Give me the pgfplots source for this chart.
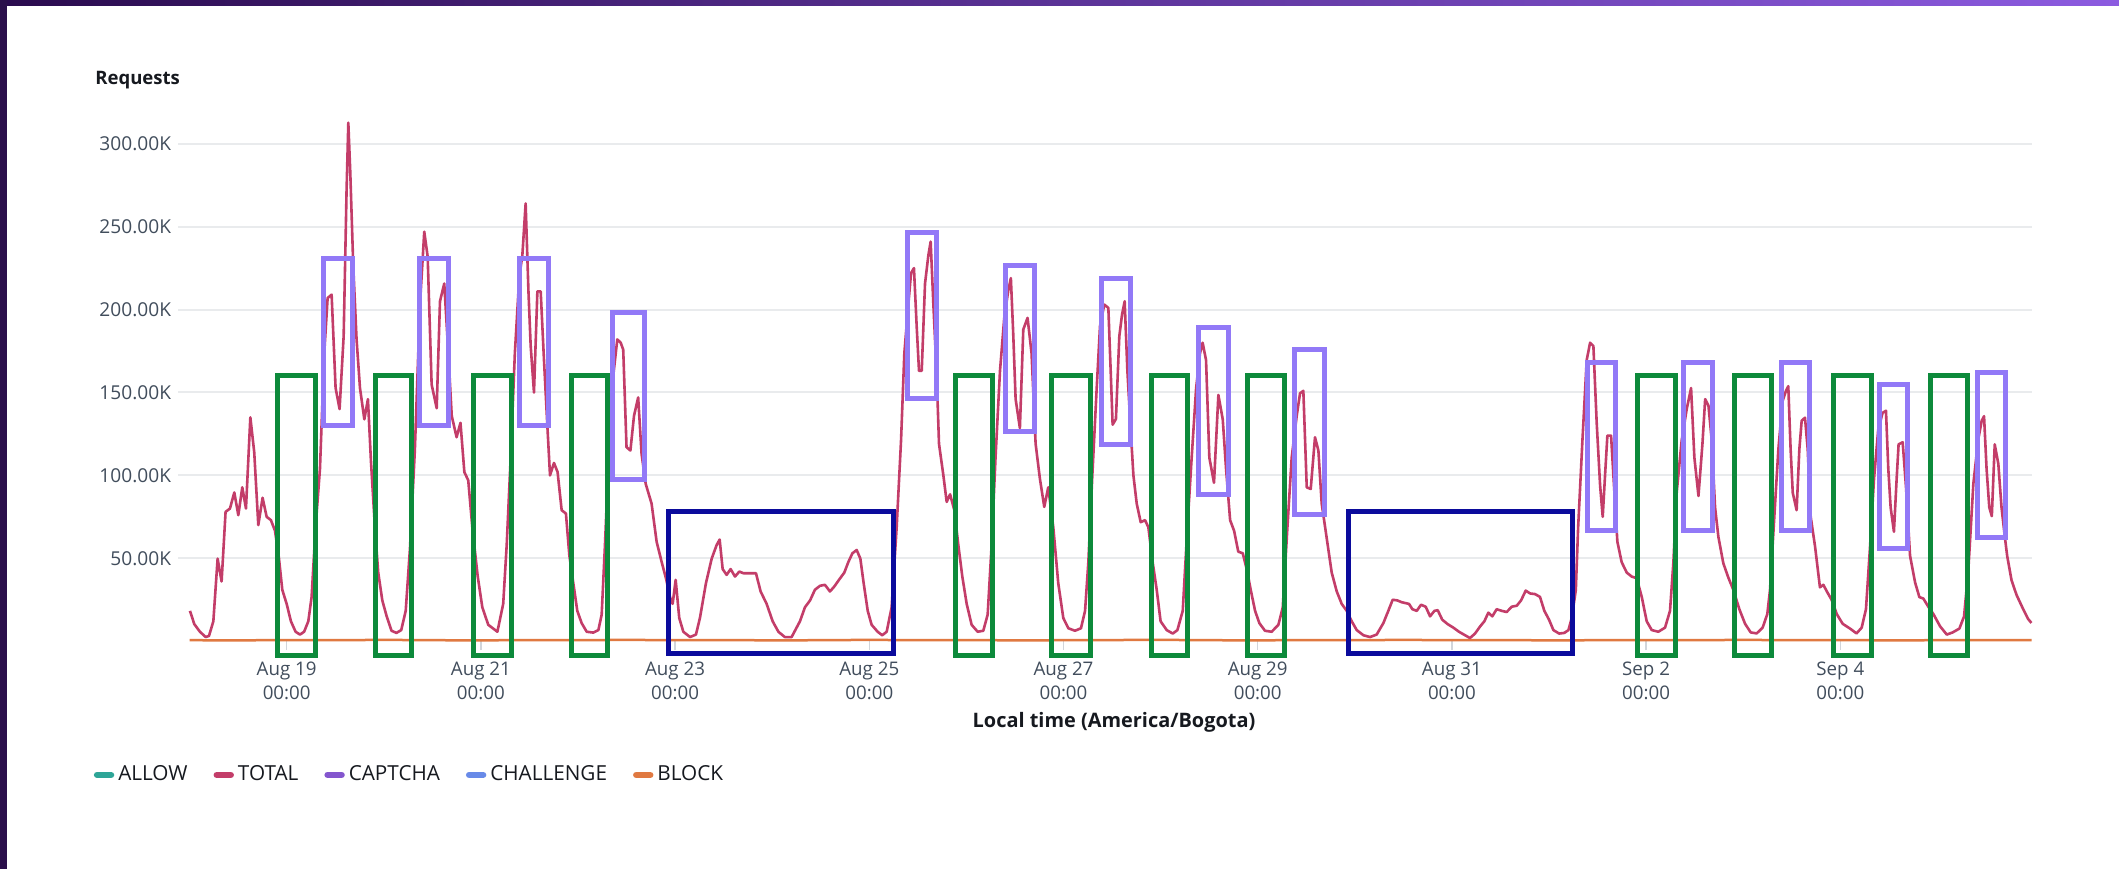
\documentclass[border=0pt]{standalone}
\usepackage{pgfplots}
\pgfplotsset{compat=1.18}
\usepackage{fontspec}
\setmainfont{Open Sans}
\definecolor{totalc}{HTML}{C33D69}
\definecolor{allowc}{HTML}{2EA597}
\definecolor{captchac}{HTML}{8456CE}
\definecolor{challengec}{HTML}{688AE8}
\definecolor{blockc}{HTML}{E07941}
\definecolor{greenbox}{HTML}{0D8A3B}
\definecolor{purplebox}{HTML}{9279F7}
\definecolor{bluebox}{HTML}{0B0B9C}
\definecolor{gridc}{HTML}{E9EBED}
\definecolor{tickc}{HTML}{D1D5DB}
\definecolor{ticklab}{HTML}{414D5C}
\definecolor{titlec}{HTML}{16191F}
\definecolor{topL}{HTML}{2A0B4E}
\definecolor{topR}{HTML}{8C5BE0}
\definecolor{stripc}{HTML}{2A0F4B}
\begin{document}
\begin{tikzpicture}
\path[use as bounding box, fill=white] (0bp,0bp) rectangle (1059.5bp,434.5bp);
\shade[left color=topL, right color=topR] (0bp,431.5bp) rectangle (1059.5bp,434.5bp);
\fill[stripc] (0bp,0bp) rectangle (3.5bp,434.5bp);
\node[anchor=west, font=\bfseries\fontsize{9.3}{11}\selectfont, text=titlec, inner sep=0pt] at (47.5bp,394.5bp) {Requests};
\begin{axis}[
  at={(89bp,113.9bp)}, anchor=south west,
  width=927bp, height=265.3bp, scale only axis,
  xmin=-0.119, xmax=18.974, ymin=0, ymax=320,
  clip=false,
  axis line style={draw=none},
  tick pos=left,
  xtick={1,3,5,7,9,11,13,15,17},
  xticklabels={{Aug 19\\00:00},{Aug 21\\00:00},{Aug 23\\00:00},{Aug 25\\00:00},{Aug 27\\00:00},{Aug 29\\00:00},{Aug 31\\00:00},{Sep 2\\00:00},{Sep 4\\00:00}},
  ytick={50,100,150,200,250,300},
  yticklabels={50.00K,100.00K,150.00K,200.00K,250.00K,300.00K},
  ymajorgrids, grid style={color=gridc, line width=1bp},
  major tick length=4.5bp, tick align=outside,
  ytick style={draw=none},
  xtick style={draw=tickc, line width=0.75bp},
  xticklabel style={align=center, font=\fontsize{9.4}{12}\selectfont, text=ticklab, yshift=-2.2bp},
  yticklabel style={font=\fontsize{9.6}{10}\selectfont, text=ticklab, inner sep=0pt, xshift=1.2bp},
  legend columns=5,
  legend style={at={(axis description cs:-0.0456,-0.252)}, anchor=west, draw=none, fill=none, inner sep=0pt,
    font=\fontsize{10.4}{12}\selectfont, text=titlec,
    /tikz/every even column/.append style={column sep=11bp}},
  legend image code/.code={\draw[line width=3.2bp, line cap=round, #1] (1.6bp,0bp) -- (8.6bp,0bp);},
]
\addlegendimage{allowc}\addlegendentry{ALLOW}
\addlegendimage{totalc}\addlegendentry{TOTAL}
\addlegendimage{captchac}\addlegendentry{CAPTCHA}
\addlegendimage{challengec}\addlegendentry{CHALLENGE}
\addlegendimage{blockc}\addlegendentry{BLOCK}
\addplot[forget plot, blockc, line width=1.25bp] coordinates {
(0,0.6)(0.5,0.5)(1,0.7)(1.5,0.6)(2,0.8)(2.5,0.6)(3,0.5)(3.5,0.7)(4,0.6)(4.5,0.8)(5,0.6)(5.5,0.7)(6,0.5)(6.5,0.6)(7,0.8)(7.5,0.6)(8,0.7)(8.5,0.5)(9,0.6)(9.5,0.7)(10,0.8)(10.5,0.6)(11,0.5)(11.5,0.7)(12,0.6)(12.5,0.8)(13,0.6)(13.5,0.7)(14,0.5)(14.5,0.6)(15,0.7)(15.5,0.6)(16,0.8)(16.5,0.6)(17,0.7)(17.5,0.5)(18,0.6)(18.5,0.7)(18.97,0.6)
};
\addplot[forget plot, totalc, line width=1.3bp, line join=round] coordinates {
(0.004,18.3)(0.049,10.3)(0.107,5.7)(0.166,2.5)(0.2,3.2)(0.245,12)(0.289,49.8)(0.33,36)(0.371,78)(0.416,80)
(0.461,89.7)(0.502,76)(0.543,92.8)(0.581,80)(0.626,135)(0.666,114)(0.708,70)(0.752,86.5)(0.794,75)(0.838,73)
(0.88,66.6)(0.921,49.8)(0.955,31)(1.0,22.5)(1.044,12)(1.092,5.7)(1.137,4)(1.18,5.7)(1.223,12)(1.257,26.7)
(1.298,68.7)(1.343,104)(1.387,173.7)(1.422,207)(1.463,209)(1.504,152.7)(1.545,140)(1.587,184)(1.617,272)(1.635,312.7)
(1.655,283)(1.686,226)(1.72,182)(1.755,152.7)(1.8,133.8)(1.837,146)(1.868,108.6)(1.909,68.7)(1.943,41.4)(1.985,24.6)
(2.03,15)(2.08,6.3)(2.13,5)(2.18,6.7)(2.226,18.3)(2.27,56)(2.32,115)(2.373,203)(2.417,247)(2.452,232)
(2.493,154.8)(2.545,140.5)(2.579,205)(2.623,215.7)(2.665,173.7)(2.7,135.9)(2.75,123)(2.79,131.7)(2.83,102)(2.87,97)
(2.912,68.7)(2.967,39.3)(3.015,20.4)(3.076,9.9)(3.17,5.7)(3.23,22.5)(3.266,58)(3.307,110.7)(3.35,173.7)(3.396,220)
(3.427,232.5)(3.461,264)(3.49,211)(3.513,178)(3.547,150)(3.582,211)(3.616,211)(3.65,169.5)(3.685,129.6)(3.712,100)
(3.753,107.5)(3.79,102)(3.832,79)(3.876,77)(3.911,51.9)(3.952,35)(3.993,18.3)(4.038,10.9)(4.09,5.7)(4.158,5.2)
(4.21,6.7)(4.244,16)(4.278,58)(4.323,121)(4.365,161)(4.405,182)(4.44,180)(4.466,175.8)(4.5,117)(4.54,115)
(4.577,135.9)(4.62,147)(4.655,113)(4.697,95)(4.758,83)(4.81,60)(4.862,47.7)(4.906,38)(4.947,26.7)(4.975,22.5)
(5.006,37)(5.043,14)(5.085,5.7)(5.154,2.5)(5.215,4)(5.256,14)(5.318,35)(5.377,49.8)(5.428,58)(5.459,61.3)
(5.49,43.5)(5.531,40)(5.572,43.5)(5.617,39)(5.662,42)(5.703,41)(5.754,41)(5.833,41)(5.881,30)(5.943,22.5)
(6.005,12)(6.064,5.7)(6.13,2.5)(6.2,2.5)(6.286,12)(6.337,20.4)(6.39,24.6)(6.44,31)(6.492,33.4)(6.543,34)
(6.595,30)(6.64,33)(6.688,37)(6.743,41.4)(6.784,47.7)(6.826,53)(6.87,55)(6.908,49.8)(6.942,35)(6.984,18.3)
(7.024,9.9)(7.086,5.7)(7.134,3.6)(7.179,5.7)(7.23,20.4)(7.282,68.7)(7.327,121)(7.361,173.7)(7.402,203)(7.43,222)
(7.46,225)(7.488,190)(7.512,163)(7.54,163)(7.574,215.7)(7.608,232.5)(7.632,241)(7.66,203)(7.694,161)(7.718,119)
(7.763,100)(7.797,84)(7.832,88.6)(7.876,79)(7.917,58)(7.958,39)(8.003,22.5)(8.054,9.9)(8.116,5.7)(8.174,6.3)
(8.219,16)(8.26,58)(8.3,110.7)(8.346,163)(8.39,195)(8.43,211)(8.458,219)(8.482,186)(8.507,146)(8.551,128.5)
(8.586,188)(8.63,195)(8.671,173.7)(8.713,119)(8.757,98)(8.802,81)(8.843,92.8)(8.895,68.7)(8.946,35)(8.998,14)
(9.05,7.8)(9.118,6.3)(9.18,7.8)(9.222,18.3)(9.256,47.7)(9.297,100)(9.342,152.7)(9.376,190)(9.42,203)(9.462,201)
(9.486,163)(9.506,130.6)(9.54,134)(9.575,184)(9.603,197)(9.63,205)(9.658,163)(9.692,127.5)(9.72,100)(9.754,83)
(9.795,71.8)(9.84,73)(9.874,68.7)(9.918,47.7)(9.96,31)(10.0,12)(10.063,6.7)(10.125,4.6)(10.173,6.7)(10.228,18.3)
(10.276,68.7)(10.32,110.7)(10.366,152.7)(10.406,173.7)(10.433,180)(10.468,169.5)(10.502,110.7)(10.55,95.5)(10.595,148.5)(10.64,133.8)
(10.674,104)(10.716,73)(10.757,66.6)(10.8,54)(10.846,53)(10.887,43.5)(10.928,31)(10.973,18.3)(11.017,10.9)(11.075,6.3)
(11.144,5.7)(11.213,9.9)(11.258,20.4)(11.306,68.7)(11.35,110.7)(11.402,136)(11.436,149.5)(11.47,151)(11.505,92.8)(11.546,91.8)
(11.59,123)(11.625,115)(11.659,83)(11.71,62.4)(11.762,41.4)(11.814,30)(11.865,22.5)(11.917,18.3)(11.968,12)(12.02,6.7)
(12.088,3.6)(12.157,2.5)(12.225,4)(12.294,10.9)(12.345,18.3)(12.39,25)(12.438,24.6)(12.483,23.5)(12.558,22.5)(12.593,19.3)
(12.638,18.3)(12.682,22)(12.73,20.8)(12.775,15)(12.82,18.3)(12.854,18.7)(12.9,13)(12.956,10.3)(13.014,8.2)(13.073,5.7)
(13.135,3.6)(13.186,1.9)(13.238,4.6)(13.289,8.8)(13.334,12)(13.375,17.2)(13.416,15)(13.461,19.3)(13.513,18.3)(13.564,17.6)
(13.616,20.8)(13.668,21.4)(13.712,24.6)(13.76,30.5)(13.805,28.8)(13.857,28.4)(13.907,26.7)(13.952,18.3)(14.0,13)(14.045,6.7)
(14.104,4.6)(14.158,5)(14.2,6.7)(14.234,14)(14.276,30.9)(14.3,68.7)(14.344,121)(14.388,169.5)(14.423,180)(14.457,178)
(14.491,131.7)(14.526,94)(14.553,75)(14.577,100)(14.601,124)(14.639,124)(14.669,94)(14.704,60)(14.748,47.7)(14.8,41.4)
(14.851,39)(14.903,38)(14.955,26.7)(15.006,12)(15.058,6.7)(15.126,5.7)(15.195,8.2)(15.246,18.3)(15.281,47.7)(15.315,89.7)
(15.366,121)(15.418,140)(15.463,152.7)(15.497,110.7)(15.539,87.6)(15.58,119)(15.608,146)(15.642,142)(15.676,121)(15.71,80.7)
(15.744,63)(15.795,47)(15.847,38.3)(15.898,31)(15.96,19.3)(16.019,10.5)(16.077,5.3)(16.139,4.7)(16.2,8.2)(16.248,16.4)
(16.276,31)(16.317,72)(16.362,115.8)(16.406,145)(16.44,151)(16.464,153.8)(16.488,115.8)(16.51,89.5)(16.55,79)(16.578,115.8)
(16.602,133)(16.636,134.8)(16.664,115.8)(16.695,75)(16.74,57)(16.79,32.5)(16.825,34)(16.866,29.5)(16.91,25)(16.963,16.4)
(17.024,10.5)(17.1,7.6)(17.167,4.7)(17.22,8.2)(17.264,19.3)(17.306,57)(17.347,98)(17.39,127.5)(17.435,137.7)(17.47,139)
(17.494,104)(17.518,80.7)(17.552,66)(17.58,98)(17.6,118.7)(17.642,120)(17.677,92.4)(17.718,51.5)(17.77,35.4)(17.814,26.6)
(17.855,25.7)(17.906,20.8)(17.958,16.4)(18.027,9)(18.096,4)(18.157,5.3)(18.226,7.6)(18.274,14.9)(18.318,42.7)(18.37,95)
(18.42,121.6)(18.456,133)(18.48,135.7)(18.506,104)(18.534,80.7)(18.56,75.4)(18.59,118.7)(18.627,107)(18.66,80.7)(18.694,63)
(18.718,51.5)(18.763,36.8)(18.814,28)(18.883,19.3)(18.934,13.4)(18.968,11)
};
% annotation boxes
\tikzset{gb/.style={draw=greenbox, line width=2.5bp}, pb/.style={draw=purplebox, line width=2.5bp}, bb/.style={draw=bluebox, line width=2.5bp}}
\draw[gb] (axis cs:0.91,-8.5) rectangle (axis cs:1.302,160.5);
\draw[gb] (axis cs:1.917,-8.5) rectangle (axis cs:2.29,160.5);
\draw[gb] (axis cs:2.929,-8.5) rectangle (axis cs:3.317,160.5);
\draw[gb] (axis cs:3.931,-8.5) rectangle (axis cs:4.306,160.5);
\draw[gb] (axis cs:7.89,-8.5) rectangle (axis cs:8.264,160.5);
\draw[gb] (axis cs:8.878,-8.5) rectangle (axis cs:9.273,160.5);
\draw[gb] (axis cs:9.908,-8.5) rectangle (axis cs:10.279,160.5);
\draw[gb] (axis cs:10.9,-8.5) rectangle (axis cs:11.28,160.5);
\draw[gb] (axis cs:14.91,-8.5) rectangle (axis cs:15.30,160.5);
\draw[gb] (axis cs:15.91,-8.5) rectangle (axis cs:16.29,160.5);
\draw[gb] (axis cs:16.925,-8.5) rectangle (axis cs:17.32,160.5);
\draw[gb] (axis cs:17.93,-8.5) rectangle (axis cs:18.31,160.5);
\draw[pb] (axis cs:1.384,130) rectangle (axis cs:1.68,230.5);
\draw[pb] (axis cs:2.37,130) rectangle (axis cs:2.664,230.5);
\draw[pb] (axis cs:3.40,130) rectangle (axis cs:3.694,230.5);
\draw[pb] (axis cs:4.36,97.5) rectangle (axis cs:4.683,198);
\draw[pb] (axis cs:7.391,146.2) rectangle (axis cs:7.694,246.6);
\draw[pb] (axis cs:8.405,126.5) rectangle (axis cs:8.70,226.6);
\draw[pb] (axis cs:9.39,118.5) rectangle (axis cs:9.688,218.7);
\draw[pb] (axis cs:10.395,88.2) rectangle (axis cs:10.697,188.9);
\draw[pb] (axis cs:11.384,76.6) rectangle (axis cs:11.686,175.7);
\draw[pb] (axis cs:14.397,67) rectangle (axis cs:14.686,168);
\draw[pb] (axis cs:15.386,67) rectangle (axis cs:15.683,168);
\draw[pb] (axis cs:16.394,67) rectangle (axis cs:16.686,168);
\draw[pb] (axis cs:17.407,56) rectangle (axis cs:17.695,155);
\draw[pb] (axis cs:18.41,62.8) rectangle (axis cs:18.70,161.8);
\draw[bb] (axis cs:4.937,-7.5) rectangle (axis cs:7.251,78.5);
\draw[bb] (axis cs:11.94,-7.5) rectangle (axis cs:14.237,78.5);
\end{axis}
\node[font=\bfseries\fontsize{10}{12}\selectfont, text=titlec] at (557bp,73.5bp) {Local time (America/Bogota)};
\end{tikzpicture}
\end{document}
